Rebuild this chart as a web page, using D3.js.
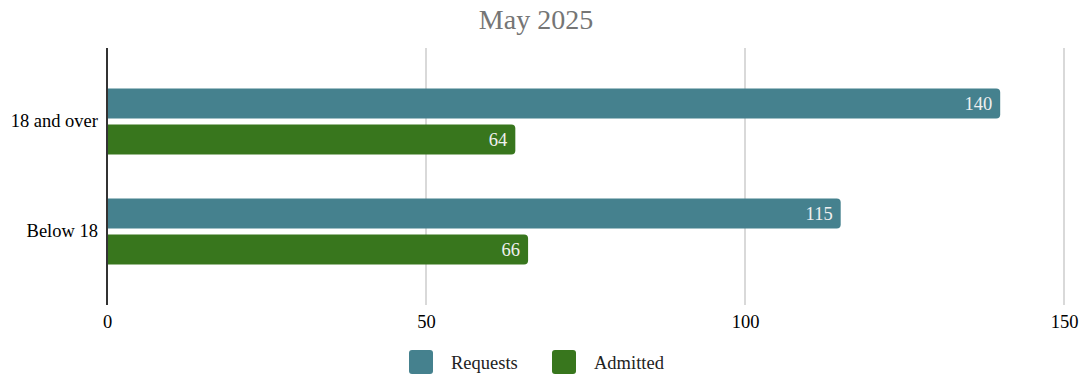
<!DOCTYPE html>
<html>
<head>
<meta charset="utf-8">
<script src="https://cdn.jsdelivr.net/npm/d3@7"></script>
<style>
  body { margin: 0; background: #fff; }
  svg, svg text { font-family: "Liberation Serif", "Times New Roman", serif !important; }
  svg { display: block; }
</style>
</head>
<body>
<svg id="chart" width="1081" height="375"></svg>
<script>
// Monthly counts by age group
const categories = ["18 and over", "Below 18"];
const series = ["Requests", "Admitted"];
const requests = [140, 115];
const admitted = [64, 66];
const xTicks = [0, 50, 100, 150];
const title = "May 2025";
const colors = ["#45818e", "#38761d"];

const values = [requests, admitted];
const rows = categories.map((c, i) => ({
  category: c,
  bars: series.map((s, j) => ({ series: s, value: values[j][i], color: colors[j] }))
}));

const svg = d3.select("#chart");
const W = 1081;
const FS = 18.5;

const x = d3.scaleLinear().domain([0, 150]).range([107, 1064]);
const y = d3.scaleBand().domain(categories).range([48, 305])
  .paddingInner(0.4).paddingOuter(0.368);
const ySub = d3.scaleBand().domain(series).range([0, y.bandwidth()]).paddingInner(1 / 6);

// Title
svg.append("text")
  .attr("x", 536).attr("y", 29)
  .attr("text-anchor", "middle")
  .attr("font-size", 28)
  .attr("fill", "#757575")
  .text(title);

// Vertical gridlines
svg.append("g").selectAll("line")
  .data(xTicks.filter(t => t > 0))
  .join("line")
  .attr("x1", d => x(d)).attr("x2", d => x(d))
  .attr("y1", 48).attr("y2", 305)
  .attr("stroke", "#cccccc").attr("stroke-width", 1.5);

// Bottom tick labels
const xAxis = d3.axisBottom(x).tickValues(xTicks).tickSize(0).tickPadding(0);
const gx = svg.append("g").attr("transform", "translate(0,315)").call(xAxis);
gx.select(".domain").remove();
gx.selectAll("text")
  .attr("font-size", FS).attr("fill", "#000").attr("dy", "0.71em");

// Category labels
const yAxis = d3.axisLeft(y).tickSize(0).tickPadding(9);
const gy = svg.append("g").attr("transform", "translate(107,0)").call(yAxis);
gy.select(".domain").remove();
gy.selectAll("text")
  .attr("font-size", FS).attr("fill", "#000");

// Bars with rounded right ends
function barPath(x0, x1, y0, h, r) {
  r = Math.min(r, (x1 - x0) / 2);
  return `M${x0},${y0}H${x1 - r}Q${x1},${y0} ${x1},${y0 + r}V${y0 + h - r}Q${x1},${y0 + h} ${x1 - r},${y0 + h}H${x0}Z`;
}

const groups = svg.append("g").selectAll("g")
  .data(rows).join("g")
  .attr("transform", d => `translate(0,${y(d.category)})`);

groups.selectAll("path")
  .data(d => d.bars).join("path")
  .attr("d", d => barPath(x(0), x(d.value), ySub(d.series), ySub.bandwidth(), 4))
  .attr("fill", d => d.color);

groups.selectAll("text.val")
  .data(d => d.bars).join("text")
  .attr("class", "val")
  .attr("x", d => x(d.value) - 8)
  .attr("y", d => ySub(d.series) + ySub.bandwidth() / 2)
  .attr("dy", "0.35em")
  .attr("text-anchor", "end")
  .attr("font-size", FS)
  .attr("fill", "#f0f0f0")
  .text(d => d.value);

// Zero axis line
svg.append("line")
  .attr("x1", x(0)).attr("x2", x(0))
  .attr("y1", 48).attr("y2", 305)
  .attr("stroke", "#333").attr("stroke-width", 2);

// Legend
const legendItems = [
  { name: series[0], color: colors[0], x: 409 },
  { name: series[1], color: colors[1], x: 552 }
];
const lg = svg.append("g").selectAll("g").data(legendItems).join("g")
  .attr("transform", d => `translate(${d.x},350)`);
lg.append("rect")
  .attr("width", 24).attr("height", 24).attr("rx", 3)
  .attr("fill", d => d.color);
lg.append("text")
  .attr("x", 42).attr("y", 13).attr("dy", "0.35em")
  .attr("font-size", FS).attr("fill", "#222")
  .text(d => d.name);
</script>
</body>
</html>
